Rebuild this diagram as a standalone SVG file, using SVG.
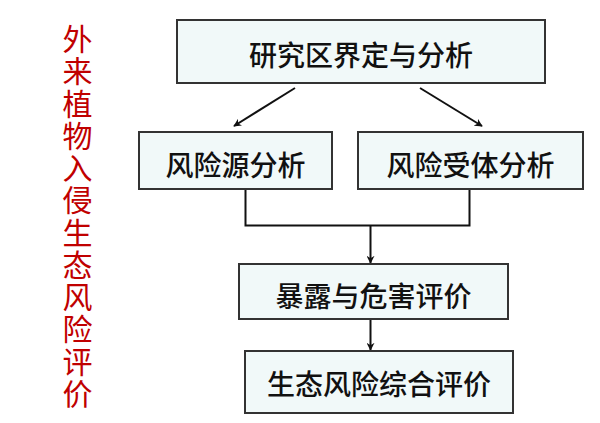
<svg xmlns="http://www.w3.org/2000/svg" width="600" height="423" viewBox="0 0 600 423">
<style>
.box{fill:#f1f9f9;stroke:#333;stroke-width:2}
.lbl{font-family:"Noto Sans CJK SC",sans-serif;font-size:28px;font-weight:500;fill:#111;text-anchor:middle;dominant-baseline:central}
.title{font-family:"Noto Sans CJK SC",sans-serif;font-size:30px;fill:#c00000;text-anchor:middle;dominant-baseline:central}
.con{fill:none;stroke:#111;stroke-width:2}
</style>
<defs>
<marker id="ah" viewBox="0 0 10 10" refX="9" refY="5" markerWidth="8" markerHeight="8" orient="auto" markerUnits="userSpaceOnUse">
<path d="M0,0 L10,5 L0,10 L3,5 z" fill="#111"/>
</marker>
</defs>
<rect width="600" height="423" fill="#fff"/>
<g id="title">
<text class="title" x="77.5" y="37">外</text>
<text class="title" x="77.5" y="69.25">来</text>
<text class="title" x="77.5" y="101.5">植</text>
<text class="title" x="77.5" y="133.75">物</text>
<text class="title" x="77.5" y="166">入</text>
<text class="title" x="77.5" y="198.25">侵</text>
<text class="title" x="77.5" y="230.5">生</text>
<text class="title" x="77.5" y="262.75">态</text>
<text class="title" x="77.5" y="295">风</text>
<text class="title" x="77.5" y="327.25">险</text>
<text class="title" x="77.5" y="359.5">评</text>
<text class="title" x="77.5" y="391.75">价</text>
</g>
<g id="connectors">
<line class="con" x1="295" y1="88" x2="234" y2="126" marker-end="url(#ah)"/>
<line class="con" x1="420" y1="88" x2="482" y2="126" marker-end="url(#ah)"/>
<polyline class="con" points="245.5,189 245.5,225.5 469.5,225.5 469.5,189"/>
<line class="con" x1="370.5" y1="225.5" x2="370.5" y2="263" marker-end="url(#ah)"/>
<line class="con" x1="370.5" y1="319" x2="370.5" y2="350" marker-end="url(#ah)"/>
</g>
<g id="n1"><rect class="box" x="177" y="20" width="368" height="63"/><text class="lbl" x="361" y="54">研究区界定与分析</text></g>
<g id="n2"><rect class="box" x="139" y="132" width="193" height="57"/><text class="lbl" x="235.5" y="164">风险源分析</text></g>
<g id="n3"><rect class="box" x="358" y="132" width="225" height="57"/><text class="lbl" x="470.5" y="164">风险受体分析</text></g>
<g id="n4"><rect class="box" x="239" y="264" width="269" height="55"/><text class="lbl" x="373.5" y="295">暴露与危害评价</text></g>
<g id="n5"><rect class="box" x="245" y="351" width="268" height="62"/><text class="lbl" x="379" y="383">生态风险综合评价</text></g>
</svg>
